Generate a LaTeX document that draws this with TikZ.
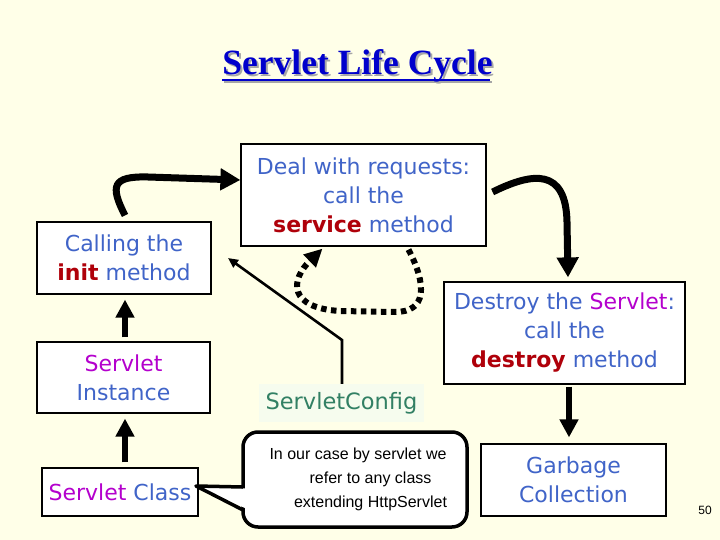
\documentclass[tikz,border=0pt]{standalone}
\usepackage{fontspec}
\setmainfont{Liberation Serif}
\newfontfamily\comic{DejaVu Sans}
\newfontfamily\arial{Liberation Sans}
\usetikzlibrary{arrows.meta,calc}
\definecolor{bgc}{RGB}{255,255,232}
\definecolor{tblue}{RGB}{64,100,200}
\definecolor{tred}{RGB}{175,0,10}
\definecolor{tmag}{RGB}{180,0,205}
\definecolor{tgreen}{RGB}{50,128,100}
\definecolor{titleblue}{RGB}{0,0,204}
\definecolor{cfgfill}{RGB}{246,252,238}
\tikzset{
  stagebox/.style={draw=black, line width=1.2pt, fill=white, inner sep=2pt,
    align=center, font=\comic\fontsize{22}{29}\selectfont, text=tblue},
  bigarrow/.style={line width=7pt, -{Triangle[length=20pt,width=21pt]}},
  midarrow/.style={line width=6pt, -{Triangle[length=18pt,width=18pt]}},
  dotarrow/.style={line width=6pt, dash pattern=on 5.5pt off 4.5pt, -{Triangle[length=18pt,width=17pt]}},
  thinarrow/.style={line width=2.6pt, -{Triangle[length=10pt,width=9pt]}},
}
\begin{document}
\begin{tikzpicture}[x=1pt,y=-1pt]
\fill[bgc] (0,0) rectangle (720,540);
\useasboundingbox (0,0) rectangle (720,540);

% title (shadow + underline in one text node)
\node[font=\fontsize{35.5}{40}\selectfont\bfseries, text=titleblue, anchor=base, inner sep=0pt] (title) at (357.5,75)
  {\makebox[0pt][l]{\kern2pt\raisebox{-2pt}{\textcolor{black!35}{\rule[-6.5pt]{268pt}{2.5pt}}}}%
   \makebox[0pt][l]{\kern2pt\raisebox{-2pt}{\textcolor{black!35}{Servlet Life Cycle}}}%
   \makebox[0pt][l]{\rule[-6.5pt]{268pt}{2.5pt}}%
   Servlet Life Cycle};

% boxes
\node[stagebox, minimum width=174pt, minimum height=72pt] (init) at (124,258)
  {Calling the\\\textcolor{tred}{\bfseries init} method};
\node[stagebox, minimum width=245pt, minimum height=102pt] (deal) at (363.5,195)
  {Deal with requests:\\call the\\\textcolor{tred}{\bfseries service} method};
\node[stagebox, minimum width=241pt, minimum height=102pt] (destroy) at (564.5,333)
  {Destroy the \textcolor{tmag}{Servlet}:\\call the\\\textcolor{tred}{\bfseries destroy} method};
\node[stagebox, minimum width=173pt, minimum height=71pt] (inst) at (123.5,377.5)
  {\textcolor{tmag}{Servlet}\\Instance};
\node[stagebox, minimum width=156pt, minimum height=48pt] (cls) at (120,492)
  {\textcolor{tmag}{Servlet} Class};
\node[stagebox, minimum width=185pt, minimum height=72pt] (garb) at (573.5,480)
  {Garbage\\Collection};
\node[fill=cfgfill, minimum width=165pt, minimum height=38pt, inner sep=2pt,
  font=\comic\fontsize{22.5}{29}\selectfont, text=tgreen] (cfg) at (341.5,403) {ServletConfig};

% callout
\coordinate (tip) at (196,486);
\draw[line width=3.5pt, fill=white, rounded corners=15pt] (243,432) rectangle (467,527);
\fill[white] (tip) -- (246,488.5) -- (246,508.5) -- cycle;
\draw[line width=3.5pt, line join=round] (243,487) -- (tip) -- (243,510);
\node[font=\arial\fontsize{16}{24}\selectfont, align=center, text=black] (calltext) at (358,479)
  {In our case by servlet we\\\hspace*{25pt}refer to any class\\\hspace*{25pt}extending HttpServlet};

% page number
\node[font=\arial\fontsize{12}{14}\selectfont, text=black] (pagenum) at (705,510) {50};

% arrows
\draw[bigarrow] ($(init.north)+(1,-6)$) .. controls (110,186) and (112,176) .. (148,177) -- ($(deal.west)+(0,-15)$);
\draw[bigarrow] ($(deal.east)+(6,-3)$) .. controls (533,172) and (566,168) .. (567,222) -- ($(destroy.north)+(3.5,-4)$);
\draw[dotarrow] ($(deal.south)+(45,3)$) .. controls (427,285) and (427,312) .. (395,312) -- (340,311) .. controls (288,308) and (290,280) .. ($(deal.south)+(-41,2)$);
\draw[thinarrow] (cfg.north -| 342,0) -- (342,340) -- (228,258);
\draw[midarrow] ($(cls.north)+(5,-5)$) -- ($(inst.south)+(1.5,5)$);
\draw[midarrow] ($(inst.north)+(1.5,-4)$) -- ($(init.south)+(1,5)$);
\draw[midarrow] ($(destroy.south)+(4.5,2)$) -- ($(garb.north)+(-4.5,-6)$);
\end{tikzpicture}
\end{document}
